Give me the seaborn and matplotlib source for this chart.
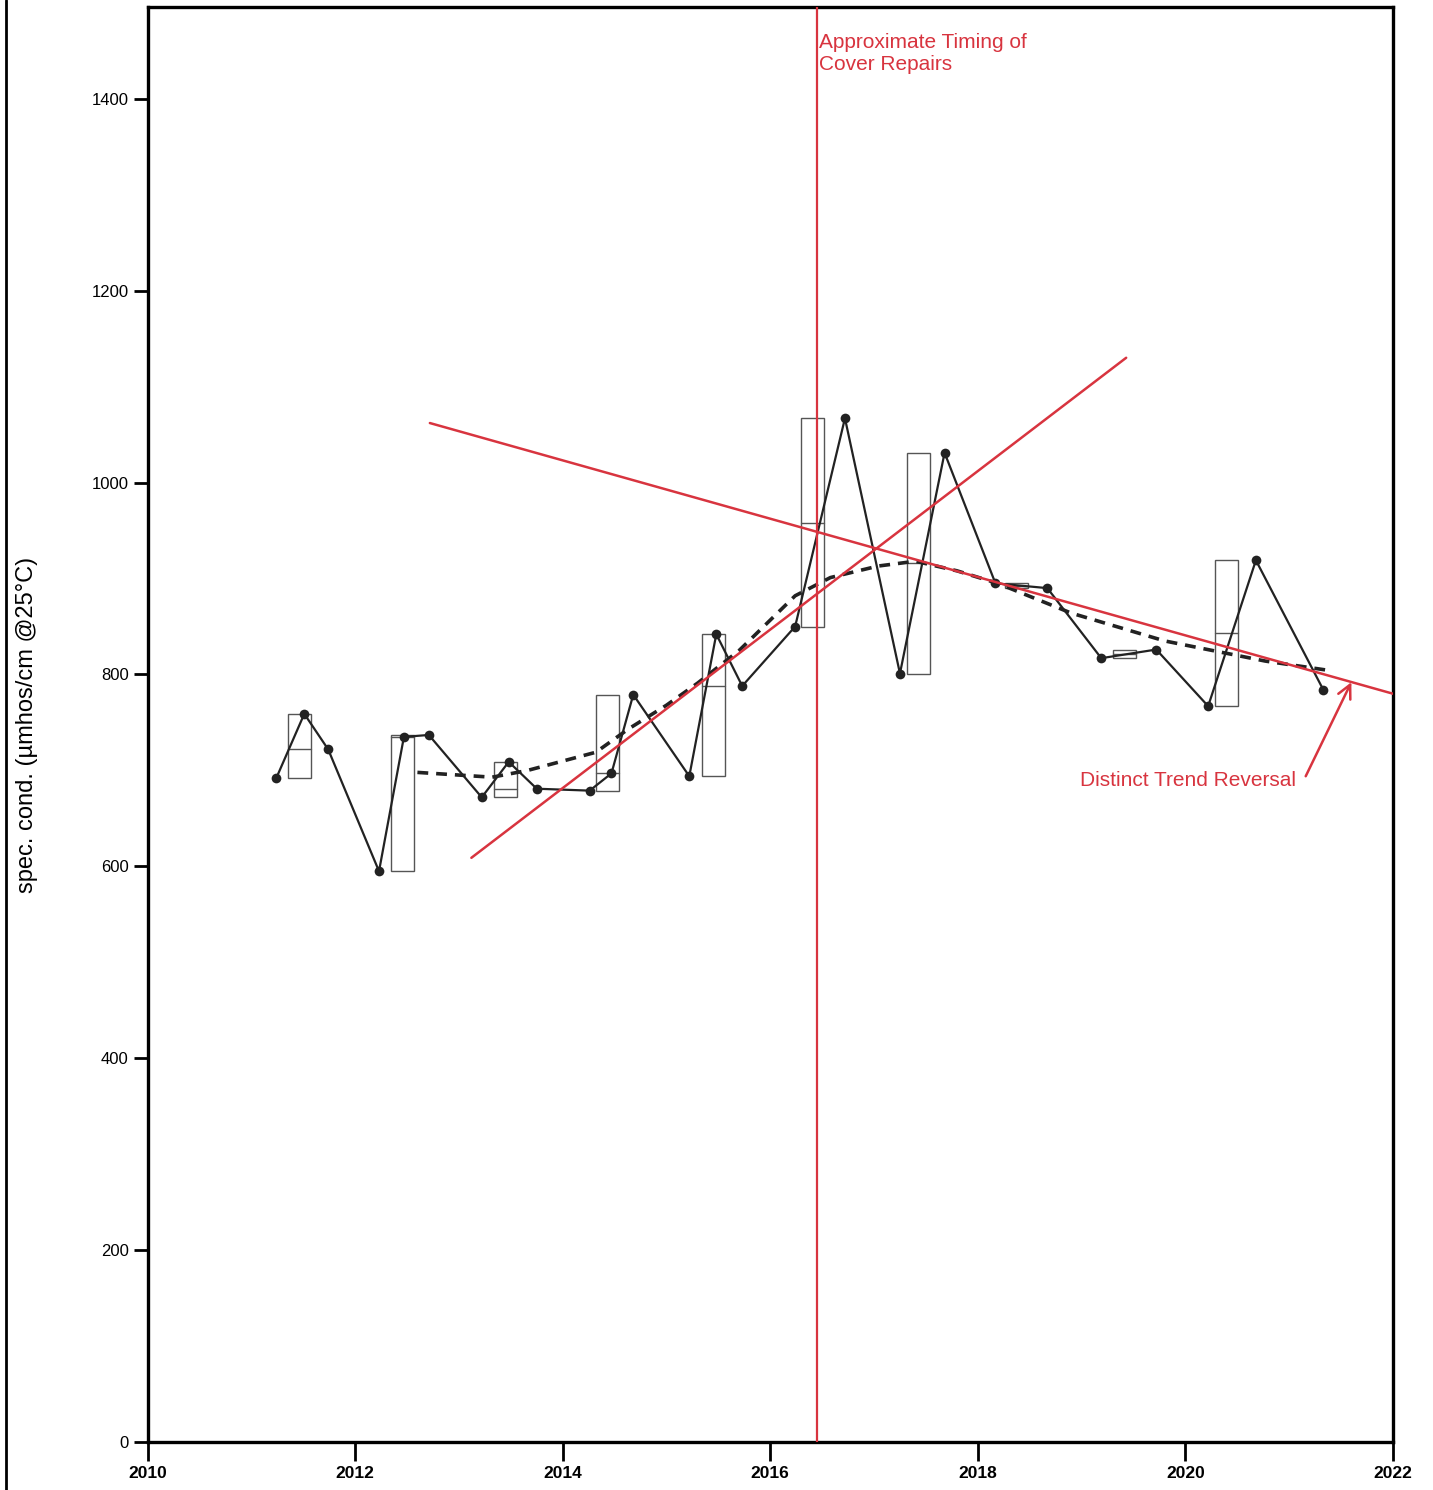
import matplotlib
matplotlib.use("Agg")
import matplotlib.pyplot as plt
from matplotlib.patches import Rectangle
from matplotlib.lines import Line2D
import seaborn as sns
import pandas as pd

# Sampling events: decimal year and specific conductance
sample_year = [2011.24, 2011.51, 2011.74, 2012.23, 2012.47, 2012.71, 2013.22, 2013.48,
               2013.75, 2014.26, 2014.47, 2014.68, 2015.22, 2015.48, 2015.73, 2016.24,
               2016.72, 2017.25, 2017.68, 2018.17, 2018.67, 2019.19, 2019.72, 2020.22,
               2020.68, 2021.33]
sample_value = [692, 759, 722, 595, 735, 737, 672, 709,
                681, 679, 697, 779, 694, 842, 788, 850,
                1067, 801, 1031, 895, 890, 817, 826, 767,
                919, 784]

# Annual range boxes (min, max, median)
box_year = [2011.46, 2012.46, 2013.45, 2014.43, 2015.45, 2016.41, 2017.43, 2018.37, 2019.41, 2020.40]
box_low = [692, 595, 672, 679, 694, 850, 801, 890, 817, 767]
box_high = [759, 737, 709, 779, 842, 1067, 1031, 895, 826, 919]
box_median = [722, 735, 681, 697, 788, 958, 916, 892, 821, 843]

# Smoothed trend
smooth_year = [2012.60, 2013.32, 2013.66, 2014.32, 2014.63, 2015.00, 2015.30, 2015.70,
               2016.24, 2016.58, 2017.04, 2017.40, 2017.80, 2018.19, 2018.90, 2019.80,
               2020.77, 2021.40]
smooth_value = [698, 693, 700, 719, 743, 768, 791, 825,
                882, 901, 913, 918, 908, 895, 864, 835,
                814, 804]

# Hand-drawn trend lines
falling_year = [2012.72, 2022.0]
falling_value = [1062, 780]
rising_year = [2013.12, 2019.43]
rising_value = [609, 1130]
repair_year = 2016.45

red = "#d8343f"

sns.set_theme(style="white")
plt.rcParams["font.family"] = ["Liberation Sans", "DejaVu Sans"]

fig = plt.figure(figsize=(14.33, 14.90), dpi=100)
ax = fig.add_axes([0.103, 0.032, 0.869, 0.963])

# range boxes
box_w = 0.22
for yr, lo, hi, med in zip(box_year, box_low, box_high, box_median):
    ax.add_patch(Rectangle((yr - box_w / 2, lo), box_w, hi - lo, fill=False,
                           edgecolor="#555555", linewidth=1.0, zorder=2))
    ax.plot([yr - box_w / 2, yr + box_w / 2], [med, med], color="#555555",
            linewidth=1.0, zorder=2)

samples = pd.DataFrame({"year": sample_year, "value": sample_value})
smooth = pd.DataFrame({"year": smooth_year, "value": smooth_value})

sns.lineplot(data=smooth, x="year", y="value", ax=ax, color="#222222",
             linewidth=2.6, linestyle=(0, (3, 2.2)), zorder=3, sort=False)
sns.lineplot(data=samples, x="year", y="value", ax=ax, color="#222222",
             linewidth=1.6, marker="o", markersize=7, markeredgewidth=0,
             zorder=4, sort=False)

ax.plot(falling_year, falling_value, color=red, linewidth=1.8, zorder=5)
ax.plot(rising_year, rising_value, color=red, linewidth=1.8, zorder=5)
ax.axvline(repair_year, color=red, linewidth=1.6, zorder=5)

ax.text(repair_year + 0.02, 1468, "Approximate Timing of\nCover Repairs", color=red,
        fontsize=15, va="top", ha="left", linespacing=1.2)
ax.text(2021.07, 690, "Distinct Trend Reversal", color=red, fontsize=15,
        ha="right", va="center")
ax.annotate("", xy=(2021.6, 792), xytext=(2021.16, 694),
            arrowprops=dict(arrowstyle="->", color=red, linewidth=1.8,
                            mutation_scale=24, shrinkA=0, shrinkB=0))

ax.set_xlim(2010, 2022)
ax.set_ylim(0, 1495)
ax.set_xticks(range(2010, 2023, 2))
ax.set_yticks(range(0, 1401, 200))
ax.tick_params(axis="x", direction="out", length=14, width=2, labelsize=12.5,
               pad=3, bottom=True, colors="black")
ax.tick_params(axis="y", direction="out", length=10, width=2, labelsize=12,
               left=True, colors="black")
for lab in ax.get_xticklabels():
    lab.set_fontweight("bold")
ax.set_xlabel("")
ax.set_ylabel("spec. cond. (µmhos/cm @25°C)", fontsize=17, color="black")
ax.yaxis.set_label_coords(-0.088, 0.5)
for side in ["left", "right", "top", "bottom"]:
    ax.spines[side].set_color("black")
    ax.spines[side].set_linewidth(2.4)
    ax.spines[side].set_visible(True)

# page edge
fig.add_artist(Line2D([0.004, 0.004], [0, 1], color="black", linewidth=2.0,
                      transform=fig.transFigure))

fig.savefig("out.png", dpi=100, facecolor="white")
